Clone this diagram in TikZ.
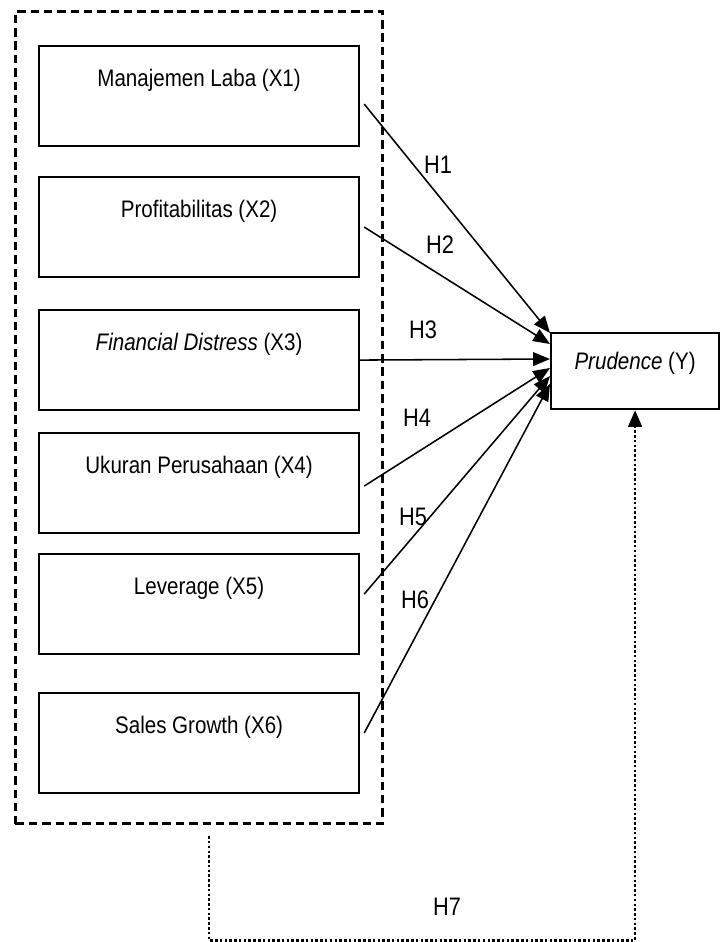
\documentclass[tikz,border=0pt]{standalone}
\usepackage{fontspec}
\setmainfont[FakeStretch=0.86]{Liberation Sans}
\usetikzlibrary{arrows.meta,calc}

\begin{document}
\begin{tikzpicture}[x=0.025cm, y=-0.025cm, >={Triangle[length=4.2mm,width=3.4mm]},
    var/.style={draw, line width=1.5pt, anchor=north west, minimum width=8cm, inner sep=0pt,
        text height=1.0cm, text depth=1.5cm, font=\fontsize{17}{20}\selectfont},
    hyp/.style={font=\fontsize{18}{21}\selectfont},
    link/.style={->, line width=1.1pt}]
    \useasboundingbox (0,0) rectangle (720,942);

    \node[draw, line width=2.1pt, dash pattern=on 6pt off 3.5pt, anchor=north west,
        minimum width=9.175cm, minimum height=20.3cm] (grp) at (14,10) {};

    \node[var] (x1) at (38,45) {Manajemen Laba (X1)};
    \node[var] (x2) at (38,176) {Profitabilitas (X2)};
    \node[var] (x3) at (38,309) {\textit{Financial Distress} (X3)};
    \node[var] (x4) at (38,432) {Ukuran Perusahaan (X4)};
    \node[var] (x5) at (38,553) {Leverage (X5)};
    \node[var] (x6) at (38,692) {Sales Growth (X6)};

    \node[draw, line width=1.5pt, anchor=north west, minimum width=4.2cm, inner sep=0pt,
        text height=0.9cm, text depth=1.0cm, font=\fontsize{17}{20}\selectfont] (y) at (550,332) {\textit{Prudence} (Y)};

    \coordinate (e1) at ($(y.north west)+(0,1)$);
    \coordinate (e2) at ($(y.north west)+(0,12)$);
    \coordinate (e3) at ($(y.north west)+(0,27)$);
    \coordinate (e4) at ($(y.north west)+(0,36)$);
    \coordinate (e5) at ($(y.north west)+(0,44)$);
    \coordinate (e6) at ($(y.north west)+(0,52)$);

    \draw[link] ([xshift=0.1cm,yshift=-0.2cm]x1.east) -- (e1);
    \draw[link] ([xshift=0.1cm]x2.east) -- (e2);
    \draw[link] (x3.east) -- (e3);
    \draw[link] ([xshift=0.1cm,yshift=-0.075cm]x4.east) -- (e4);
    \draw[link] ([xshift=0.1cm,yshift=0.25cm]x5.east) -- (e5);
    \draw[link] ([xshift=0.1cm,yshift=0.25cm]x6.east) -- (e6);

    \node[hyp] (h1) at (438,165) {H1};
    \node[hyp] (h2) at (440,245) {H2};
    \node[hyp] (h3) at (423,330) {H3};
    \node[hyp] (h4) at (417,418) {H4};
    \node[hyp] (h5) at (413,517) {H5};
    \node[hyp] (h6) at (415,600) {H6};

    \coordinate (d0) at ($(grp.south)+(10,11)$);
    \draw[->, line width=2pt, dash pattern=on 1.8pt off 1.6pt] (d0) -- ++(0,104) -| (y.south);
    \node[hyp] (h7) at (447,907) {H7};
\end{tikzpicture}
\end{document}
